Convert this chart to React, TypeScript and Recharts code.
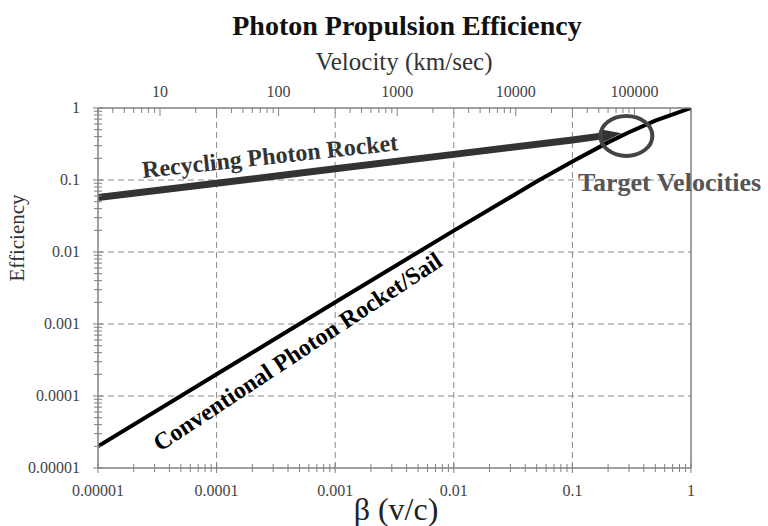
import React from "react";
import {
  LineChart,
  Line,
  XAxis,
  YAxis,
  ReferenceLine,
  ReferenceDot,
} from "recharts";

// decade ticks on the beta / efficiency axes
const betaDecades = [0.00001, 0.0001, 0.001, 0.01, 0.1, 1];
const betaLabels = ["0.00001", "0.0001", "0.001", "0.01", "0.1", "1"];
const effDecades = [0.00001, 0.0001, 0.001, 0.01, 0.1, 1];
const effLabels = ["0.00001", "0.0001", "0.001", "0.01", "0.1", "1"];

// top axis (km/sec), beta = 1 at 300000 km/sec
const velocityDecades = [1, 10, 100, 1000, 10000, 100000];
const velocityTicks = [10, 100, 1000, 10000, 100000];
const velocityLabels = ["10", "100", "1000", "10000", "100000"];
const velocityRange = [
  { vel: 3, eff: 0.00001 },
  { vel: 300000, eff: 1 },
];

// conventional photon rocket / sail
const conventionalBeta = [0.00001, 0.0001, 0.001, 0.01, 0.05, 0.1, 0.2, 0.3, 0.5, 1];
const conventionalEff = [0.00002, 0.0002, 0.002, 0.0198, 0.095, 0.18, 0.333, 0.46, 0.667, 1];

// recycling photon rocket
const recyclingBeta = [0.00001, 0.0001, 0.001, 0.01, 0.1, 0.18];
const recyclingEff = [0.057, 0.09, 0.143, 0.227, 0.36, 0.41];

const targetBeta = 0.285;
const targetEff = 0.41;

const conventionalData = conventionalBeta.map((b, i) => ({ beta: b, eff: conventionalEff[i] }));
const recyclingData = recyclingBeta.map((b, i) => ({ beta: b, eff: recyclingEff[i] }));

const withMinors = (decades: number[], lo: number, hi: number) => {
  const out: number[] = [];
  decades.forEach((d) => {
    for (let m = 1; m <= 9; m++) {
      const v = d * m;
      if (v >= lo * 0.999 && v <= hi * 1.001) out.push(v);
    }
  });
  return out;
};

const betaTicks = withMinors(betaDecades, 0.00001, 1);
const effTicks = withMinors(effDecades, 0.00001, 1);
const velTicks = withMinors(velocityDecades, 3, 300000);

const SERIF = "'Liberation Serif', 'Times New Roman', serif";
const AXIS = "#808080";
const GRID = "#888";
const LABEL = "#444";

const isMajor = (list: number[], v: number) =>
  list.findIndex((d) => Math.abs(v / d - 1) < 1e-6);

const BottomTick = (props: any) => {
  const { x, y, payload } = props;
  const idx = isMajor(betaDecades, payload.value);
  const len = idx >= 0 ? 5 : 4;
  return (
    <g>
      <line x1={x} x2={x} y1={y - len} y2={y + len} stroke={AXIS} strokeWidth={1} />
      {idx >= 0 && (
        <text x={x} y={y + 28} textAnchor="middle" fontFamily={SERIF} fontSize={16} fill={LABEL}>
          {betaLabels[idx]}
        </text>
      )}
    </g>
  );
};

const LeftTick = (props: any) => {
  const { x, y, payload } = props;
  const idx = isMajor(effDecades, payload.value);
  const len = idx >= 0 ? 5 : 4;
  return (
    <g>
      <line x1={x - len} x2={x + len} y1={y} y2={y} stroke={AXIS} strokeWidth={1} />
      {idx >= 0 && (
        <text x={x - 18} y={y + 5} textAnchor="end" fontFamily={SERIF} fontSize={16} fill={LABEL}>
          {effLabels[idx]}
        </text>
      )}
    </g>
  );
};

const TopTick = (props: any) => {
  const { x, y, payload } = props;
  const idx = isMajor(velocityTicks, payload.value);
  const len = idx >= 0 ? 8 : 5;
  return (
    <g>
      <line x1={x} x2={x} y1={y} y2={y + len} stroke={AXIS} strokeWidth={1} />
      {idx >= 0 && (
        <text x={x} y={y - 11} textAnchor="middle" fontFamily={SERIF} fontSize={16} fill={LABEL}>
          {velocityLabels[idx]}
        </text>
      )}
    </g>
  );
};

const TargetRing = (props: any) => (
  <ellipse cx={props.cx} cy={props.cy} rx={26} ry={20} fill="none" stroke="#444" strokeWidth={4} />
);

export default function App() {
  return (
    <div style={{ position: "absolute", left: 0, top: 0, width: 768, height: 526, background: "#fff" }}>
      <svg width={0} height={0} style={{ position: "absolute" }}>
        <defs>
          <marker
            id="recycleArrow"
            markerUnits="userSpaceOnUse"
            markerWidth={24}
            markerHeight={16}
            refX={2}
            refY={7}
            orient="auto"
          >
            <path d="M0,0 L21,7 L0,14 z" fill="#333" />
          </marker>
        </defs>
      </svg>
      <LineChart
        width={768}
        height={526}
        margin={{ top: 78, right: 77, bottom: 28, left: 0 }}
      >
        <XAxis
          xAxisId="beta"
          type="number"
          dataKey="beta"
          scale="log"
          domain={[0.00001, 1]}
          allowDataOverflow
          ticks={betaTicks}
          interval={0}
          tick={<BottomTick />}
          tickLine={false}
          tickSize={0}
          tickMargin={0}
          height={30}
          axisLine={{ stroke: AXIS, strokeWidth: 1.5 }}
        />
        <XAxis
          xAxisId="vel"
          orientation="top"
          type="number"
          dataKey="vel"
          scale="log"
          domain={[3, 300000]}
          allowDataOverflow
          ticks={velTicks}
          interval={0}
          tick={<TopTick />}
          tickLine={false}
          tickSize={0}
          tickMargin={0}
          height={30}
          axisLine={{ stroke: AXIS, strokeWidth: 1.5 }}
        />
        <YAxis
          type="number"
          dataKey="eff"
          scale="log"
          domain={[0.00001, 1]}
          allowDataOverflow
          ticks={effTicks}
          interval={0}
          tick={<LeftTick />}
          tickLine={false}
          tickSize={0}
          tickMargin={0}
          width={98}
          axisLine={{ stroke: AXIS, strokeWidth: 1.5 }}
        />
        {betaDecades.slice(1, -1).map((d) => (
          <ReferenceLine key={"gx" + d} xAxisId="beta" x={d} stroke={GRID} strokeDasharray="6 4" />
        ))}
        {effDecades.slice(1, -1).map((d) => (
          <ReferenceLine key={"gy" + d} xAxisId="beta" y={d} stroke={GRID} strokeDasharray="6 4" />
        ))}
        <ReferenceLine xAxisId="beta" x={1} stroke={AXIS} strokeWidth={1.5} />
        {/* invisible series that carries the km/sec axis range */}
        <Line
          xAxisId="vel"
          data={velocityRange}
          dataKey="eff"
          stroke="none"
          dot={false}
          activeDot={false}
          isAnimationActive={false}
        />
        <Line
          xAxisId="beta"
          data={conventionalData}
          dataKey="eff"
          type="linear"
          stroke="#000"
          strokeWidth={4}
          dot={false}
          isAnimationActive={false}
        />
        <Line
          xAxisId="beta"
          data={recyclingData}
          dataKey="eff"
          type="linear"
          stroke="#333"
          strokeWidth={7}
          dot={false}
          markerEnd="url(#recycleArrow)"
          isAnimationActive={false}
        />
        <ReferenceDot
          xAxisId="beta"
          x={targetBeta}
          y={targetEff}
          shape={<TargetRing />}
        />
      </LineChart>
      <svg
        width={768}
        height={526}
        style={{ position: "absolute", left: 0, top: 0, pointerEvents: "none" }}
        fontFamily={SERIF}
      >
        <text x={407} y={35} textAnchor="middle" fontSize={28} fontWeight="bold" fill="#111">
          Photon Propulsion Efficiency
        </text>
        <text x={404} y={70} textAnchor="middle" fontSize={25} fill="#333">
          Velocity (km/sec)
        </text>
        <text x={396} y={520} textAnchor="middle" fontSize={32} fill="#222">
          β (v/c)
        </text>
        <text
          x={24}
          y={238}
          textAnchor="middle"
          fontSize={21}
          fill="#333"
          transform="rotate(-90 24 238)"
        >
          Efficiency
        </text>
        <text
          x={143}
          y={178}
          fontSize={24}
          fontWeight="bold"
          fill="#333"
          transform="rotate(-6.2 143 178)"
        >
          Recycling Photon Rocket
        </text>
        <text
          x={160}
          y={452}
          fontSize={24}
          fontWeight="bold"
          fill="#000"
          transform="rotate(-33.4 160 452)"
        >
          Conventional Photon Rocket/Sail
        </text>
        <text x={578} y={191} fontSize={26} fontWeight="bold" fill="#555">
          Target Velocities
        </text>
      </svg>
    </div>
  );
}
